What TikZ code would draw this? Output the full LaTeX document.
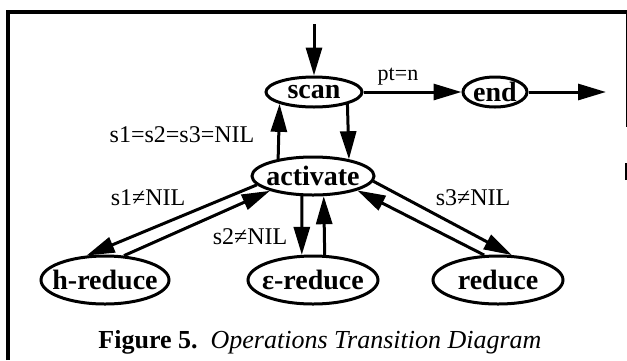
\documentclass[tikz,border=0pt]{standalone}
\usepackage{fontspec}
\setmainfont{Liberation Serif}
\usetikzlibrary{arrows.meta,shapes.geometric}
\begin{document}
\begin{tikzpicture}[x=1pt,y=-1pt,
  st/.style={ellipse,draw,line width=3pt,inner xsep=-20pt,inner ysep=-10pt,
    font=\fontsize{28}{31}\selectfont\bfseries},
  lbl/.style={font=\fontsize{24}{28}\selectfont,inner sep=0pt},
  arr/.style={line width=3pt,-{Triangle[length=28pt,width=16pt]}}]
\useasboundingbox (0,0) rectangle (627,360);
% frame
\draw[line width=4.5pt] (8,360) -- (8,12) -- (627,12);
\draw[line width=1pt] (626,12) -- (626,127);
\draw[line width=2pt] (626,163) -- (626,180);
% states
\node[st,minimum width=96pt,minimum height=30pt] (scan) at (314,92) {scan};
\node[st,minimum width=64pt,minimum height=30pt] (end) at (495,92) {end};
\node[st,minimum width=122pt,minimum height=38pt] (activate) at (313,176) {activate};
\node[st,minimum width=128pt,minimum height=48pt] (hreduce) at (105,280) {h-reduce};
\node[st,minimum width=130pt,minimum height=48pt] (ereduce) at (313,280) {ε-reduce};
\node[st,minimum width=130pt,minimum height=48pt] (reduce) at (498,280) {reduce};
\coordinate (start) at (314,24);
\coordinate (exit) at (606,92);
% connectors
\draw[arr] (start) -- (scan.north);
\draw[arr] (scan.east) -- (end.west);
\draw[arr] (end.east) -- (exit);
\draw[arr] (activate.154.8) -- (scan.199.3);
\draw[arr] (scan.340.7) -- (activate.25.2);
\draw[arr] (activate.241.9) -- (ereduce.114.7);
\draw[arr] (ereduce.65.3) -- (activate.298.1);
\draw[arr] (activate.189.5) -- (hreduce.127.2);
\draw[arr] (hreduce.52.8) -- (activate.199.5);
\draw[arr] (activate.355) -- (reduce.61);
\draw[arr] (reduce.119) -- (activate.342.7);
% labels
\node[lbl,font=\fontsize{22}{26}\selectfont] (lpt) at (398,77) {pt=n};
\node[lbl] (lall) at (182,135) {s1=s2=s3=NIL};
\node[lbl] (ls1) at (148,198) {s1≠NIL};
\node[lbl] (ls2) at (250,237) {s2≠NIL};
\node[lbl] (ls3) at (473,198) {s3≠NIL};
% caption
\node[inner sep=0pt,font=\fontsize{26}{30}\selectfont] (cap) at (320,342)
  {\textbf{Figure 5.}\ \ \textit{Operations Transition Diagram}};
\end{tikzpicture}
\end{document}
